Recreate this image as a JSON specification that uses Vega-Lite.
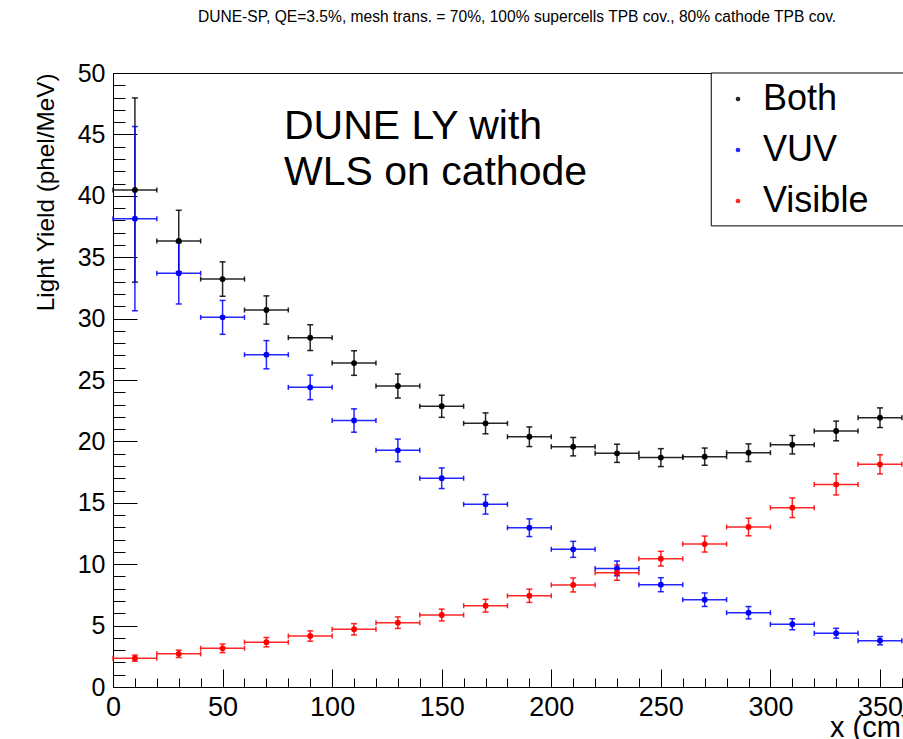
{
  "$schema": "https://vega.github.io/schema/vega-lite/v6.json",
  "width": 790,
  "height": 614,
  "autosize": {"type": "none"},
  "padding": {"left": 113, "top": 73, "right": 0, "bottom": 52},
  "background": "white",
  "config": {"font": "Liberation Sans", "view": {"stroke": "black", "strokeWidth": 1}},
  "title": {"text": "DUNE-SP, QE=3.5%, mesh trans. = 70%, 100% supercells TPB cov., 80% cathode TPB cov.", "fontSize": 15.6, "fontWeight": "normal", "color": "black", "anchor": "middle", "offset": 35, "dx": 9},
  "data": {"values": [
    {"series": "Both", "x": 10, "y": 40.47, "ey": 7.5, "ex": 10},
    {"series": "Both", "x": 30, "y": 36.32, "ey": 2.5, "ex": 10},
    {"series": "Both", "x": 50, "y": 33.22, "ey": 1.4, "ex": 10},
    {"series": "Both", "x": 70, "y": 30.7, "ey": 1.15, "ex": 10},
    {"series": "Both", "x": 90, "y": 28.45, "ey": 1.05, "ex": 10},
    {"series": "Both", "x": 110, "y": 26.38, "ey": 1.0, "ex": 10},
    {"series": "Both", "x": 130, "y": 24.51, "ey": 0.98, "ex": 10},
    {"series": "Both", "x": 150, "y": 22.86, "ey": 0.9, "ex": 10},
    {"series": "Both", "x": 170, "y": 21.47, "ey": 0.85, "ex": 10},
    {"series": "Both", "x": 190, "y": 20.38, "ey": 0.8, "ex": 10},
    {"series": "Both", "x": 210, "y": 19.57, "ey": 0.75, "ex": 10},
    {"series": "Both", "x": 230, "y": 19.03, "ey": 0.74, "ex": 10},
    {"series": "Both", "x": 250, "y": 18.68, "ey": 0.73, "ex": 10},
    {"series": "Both", "x": 270, "y": 18.76, "ey": 0.7, "ex": 10},
    {"series": "Both", "x": 290, "y": 19.08, "ey": 0.72, "ex": 10},
    {"series": "Both", "x": 310, "y": 19.73, "ey": 0.75, "ex": 10},
    {"series": "Both", "x": 330, "y": 20.85, "ey": 0.8, "ex": 10},
    {"series": "Both", "x": 350, "y": 21.93, "ey": 0.8, "ex": 10},
    {"series": "VUV", "x": 10, "y": 38.14, "ey": 7.5, "ex": 10},
    {"series": "VUV", "x": 30, "y": 33.69, "ey": 2.5, "ex": 10},
    {"series": "VUV", "x": 50, "y": 30.1, "ey": 1.38, "ex": 10},
    {"series": "VUV", "x": 70, "y": 27.06, "ey": 1.15, "ex": 10},
    {"series": "VUV", "x": 90, "y": 24.4, "ey": 1.0, "ex": 10},
    {"series": "VUV", "x": 110, "y": 21.7, "ey": 0.95, "ex": 10},
    {"series": "VUV", "x": 130, "y": 19.27, "ey": 0.92, "ex": 10},
    {"series": "VUV", "x": 150, "y": 17.0, "ey": 0.84, "ex": 10},
    {"series": "VUV", "x": 170, "y": 14.88, "ey": 0.8, "ex": 10},
    {"series": "VUV", "x": 190, "y": 12.97, "ey": 0.72, "ex": 10},
    {"series": "VUV", "x": 210, "y": 11.21, "ey": 0.65, "ex": 10},
    {"series": "VUV", "x": 230, "y": 9.66, "ey": 0.6, "ex": 10},
    {"series": "VUV", "x": 250, "y": 8.33, "ey": 0.57, "ex": 10},
    {"series": "VUV", "x": 270, "y": 7.11, "ey": 0.55, "ex": 10},
    {"series": "VUV", "x": 290, "y": 6.05, "ey": 0.5, "ex": 10},
    {"series": "VUV", "x": 310, "y": 5.11, "ey": 0.45, "ex": 10},
    {"series": "VUV", "x": 330, "y": 4.38, "ey": 0.4, "ex": 10},
    {"series": "VUV", "x": 350, "y": 3.77, "ey": 0.34, "ex": 10},
    {"series": "Visible", "x": 10, "y": 2.35, "ey": 0.25, "ex": 10},
    {"series": "Visible", "x": 30, "y": 2.7, "ey": 0.3, "ex": 10},
    {"series": "Visible", "x": 50, "y": 3.15, "ey": 0.35, "ex": 10},
    {"series": "Visible", "x": 70, "y": 3.65, "ey": 0.38, "ex": 10},
    {"series": "Visible", "x": 90, "y": 4.15, "ey": 0.42, "ex": 10},
    {"series": "Visible", "x": 110, "y": 4.7, "ey": 0.46, "ex": 10},
    {"series": "Visible", "x": 130, "y": 5.24, "ey": 0.47, "ex": 10},
    {"series": "Visible", "x": 150, "y": 5.86, "ey": 0.48, "ex": 10},
    {"series": "Visible", "x": 170, "y": 6.62, "ey": 0.52, "ex": 10},
    {"series": "Visible", "x": 190, "y": 7.43, "ey": 0.54, "ex": 10},
    {"series": "Visible", "x": 210, "y": 8.31, "ey": 0.57, "ex": 10},
    {"series": "Visible", "x": 230, "y": 9.31, "ey": 0.62, "ex": 10},
    {"series": "Visible", "x": 250, "y": 10.45, "ey": 0.6, "ex": 10},
    {"series": "Visible", "x": 270, "y": 11.64, "ey": 0.65, "ex": 10},
    {"series": "Visible", "x": 290, "y": 13.03, "ey": 0.72, "ex": 10},
    {"series": "Visible", "x": 310, "y": 14.6, "ey": 0.8, "ex": 10},
    {"series": "Visible", "x": 330, "y": 16.5, "ey": 0.86, "ex": 10},
    {"series": "Visible", "x": 350, "y": 18.13, "ey": 0.78, "ex": 10}
  ]},
  "resolve": {"axis": {"x": "independent", "y": "independent"}},
  "layer": [
    {
      "mark": {"type": "errorbar", "ticks": {"size": 6, "thickness": 1.5}, "thickness": 1.5, "opacity": 0.85},
      "encoding": {
        "x": {"field": "x", "type": "quantitative", "scale": {"domain": [0, 360.5], "nice": false, "zero": false},
          "axis": {"orient": "bottom", "values": [0, 50, 100, 150, 200, 250, 300, 350], "tickSize": -18, "tickColor": "black", "tickWidth": 1, "domainColor": "black", "domainWidth": 1, "grid": false, "labelFontSize": 27, "labelColor": "black", "labelPadding": 25, "labelFlush": false, "labelOverlap": false,
            "title": "x (cm)", "titleFontSize": 29, "titleFontWeight": "normal", "titleColor": "black", "titleX": 797, "titleY": 49, "titleAlign": "right", "titleBaseline": "alphabetic"}},
        "y": {"field": "y", "type": "quantitative", "scale": {"domain": [0, 50], "nice": false},
          "axis": {"orient": "left", "values": [0, 5, 10, 15, 20, 25, 30, 35, 40, 45, 50], "tickSize": -24, "tickColor": "black", "tickWidth": 1, "domainColor": "black", "domainWidth": 1, "grid": false, "labelFontSize": 25, "labelColor": "black", "labelPadding": 32, "labelFlush": false, "labelOverlap": false,
            "title": "Light Yield (phel/MeV)", "titleFontSize": 24.3, "titleFontWeight": "normal", "titleColor": "black", "titleAngle": 270, "titleX": -60, "titleY": 0, "titleAlign": "right", "titleBaseline": "alphabetic"}},
        "yError": {"field": "ey"},
        "color": {"field": "series", "type": "nominal", "scale": {"domain": ["Both", "VUV", "Visible"], "range": ["#000000", "#0000ff", "#ff0000"]},
          "legend": {"orient": "none", "legendX": 607, "legendY": 8, "title": null, "labelFontSize": 36, "labelColor": "black", "symbolSize": 22, "symbolType": "circle", "symbolStrokeWidth": 0, "labelOffset": 7, "rowPadding": 15, "padding": 0}}
      }
    },
    {
      "mark": {"type": "errorbar", "ticks": {"size": 5, "thickness": 1.5}, "thickness": 1.5, "opacity": 0.85},
      "encoding": {
        "x": {"field": "x", "type": "quantitative",
          "axis": {"orient": "bottom", "values": [0, 10, 20, 30, 40, 50, 60, 70, 80, 90, 100, 110, 120, 130, 140, 150, 160, 170, 180, 190, 200, 210, 220, 230, 240, 250, 260, 270, 280, 290, 300, 310, 320, 330, 340, 350, 360], "tickSize": -9, "tickColor": "black", "tickWidth": 1, "domain": false, "labels": false, "grid": false, "title": null}},
        "xError": {"field": "ex"},
        "y": {"field": "y", "type": "quantitative",
          "axis": {"orient": "left", "values": [0, 1, 2, 3, 4, 5, 6, 7, 8, 9, 10, 11, 12, 13, 14, 15, 16, 17, 18, 19, 20, 21, 22, 23, 24, 25, 26, 27, 28, 29, 30, 31, 32, 33, 34, 35, 36, 37, 38, 39, 40, 41, 42, 43, 44, 45, 46, 47, 48, 49, 50], "tickSize": -12, "tickColor": "black", "tickWidth": 1, "domain": false, "labels": false, "grid": false, "title": null}},
        "color": {"field": "series", "type": "nominal"}
      }
    },
    {
      "mark": {"type": "point", "filled": true, "shape": "circle", "size": 34, "opacity": 1},
      "encoding": {
        "x": {"field": "x", "type": "quantitative", "axis": null},
        "y": {"field": "y", "type": "quantitative", "axis": null},
        "color": {"field": "series", "type": "nominal"}
      }
    },
    {
      "data": {"values": [{}]},
      "mark": {"type": "rect", "fill": "white", "stroke": "black", "strokeWidth": 1, "clip": false},
      "encoding": {
        "x": {"datum": 273, "axis": null},
        "x2": {"datum": 420},
        "y": {"datum": 50, "axis": null},
        "y2": {"datum": 37.55}
      }
    },
    {
      "data": {"values": [{}]},
      "mark": {"type": "text", "text": ["DUNE LY with", "WLS on cathode"], "fontSize": 41, "lineHeight": 46, "align": "left", "baseline": "alphabetic", "color": "black"},
      "encoding": {
        "x": {"datum": 78, "axis": null},
        "y": {"datum": 44.63, "axis": null}
      }
    }
  ]
}
